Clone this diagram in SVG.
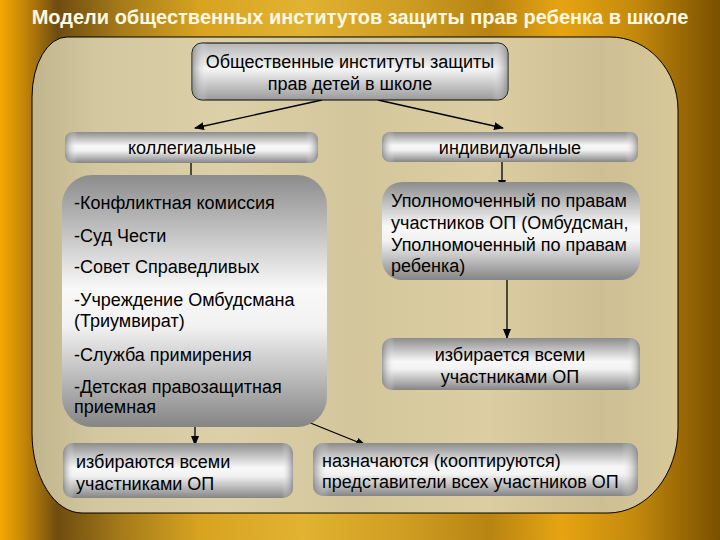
<svg xmlns="http://www.w3.org/2000/svg" width="720" height="540" viewBox="0 0 720 540">
<defs>
<linearGradient id="bg" x1="0" y1="0" x2="1" y2="0">
<stop offset="0" stop-color="#f5a800"/>
<stop offset="0.03" stop-color="#c98a08"/>
<stop offset="0.08" stop-color="#6e4c10"/>
<stop offset="0.17" stop-color="#a67c1a"/>
<stop offset="0.28" stop-color="#d8a420"/>
<stop offset="0.42" stop-color="#e2b232"/>
<stop offset="0.56" stop-color="#cf9e22"/>
<stop offset="0.68" stop-color="#b88412"/>
<stop offset="0.78" stop-color="#e6a412"/>
<stop offset="0.88" stop-color="#c48a0c"/>
<stop offset="1" stop-color="#7a5000"/>
</linearGradient>
<linearGradient id="panel" x1="0" y1="0" x2="1" y2="0">
<stop offset="0" stop-color="#c0b58c"/>
<stop offset="0.1" stop-color="#d2c79f"/>
<stop offset="0.3" stop-color="#dcd0a8"/>
<stop offset="0.5" stop-color="#d3c69c"/>
<stop offset="0.7" stop-color="#dccea2"/>
<stop offset="0.88" stop-color="#cdbf94"/>
<stop offset="1" stop-color="#d8c899"/>
</linearGradient>
<linearGradient id="metal" x1="0" y1="0" x2="0" y2="1">
<stop offset="0" stop-color="#8c8c8c"/>
<stop offset="0.45" stop-color="#f8f8f8"/>
<stop offset="0.6" stop-color="#f2f2f2"/>
<stop offset="1" stop-color="#858585"/>
</linearGradient>
<linearGradient id="metalLight" x1="0" y1="0" x2="0" y2="1">
<stop offset="0" stop-color="#b4b4b4"/>
<stop offset="0.45" stop-color="#f6f6f6"/>
<stop offset="1" stop-color="#9a9a9a"/>
</linearGradient>
<linearGradient id="edges" x1="0" y1="0" x2="1" y2="0">
<stop offset="0" stop-color="#7a7a7a" stop-opacity="0.7"/>
<stop offset="0.05" stop-color="#ffffff" stop-opacity="0"/>
<stop offset="0.95" stop-color="#ffffff" stop-opacity="0"/>
<stop offset="1" stop-color="#7a7a7a" stop-opacity="0.7"/>
</linearGradient>
<marker id="arr" markerUnits="userSpaceOnUse" markerWidth="10" markerHeight="8" refX="9" refY="4" orient="auto">
<path d="M0,0 L10,4 L0,8 Z" fill="#000"/>
</marker>
<style>
.t{font-family:"Liberation Sans",Arial,sans-serif;font-size:18px;fill:#000}
.c{text-anchor:middle}
.title{font-family:"Liberation Sans",Arial,sans-serif;font-size:20px;font-weight:bold;fill:#fff8e2;text-anchor:middle}
.ln{stroke:#000;stroke-width:1.3;fill:none;marker-end:url(#arr)}
.box{fill:url(#metal)}
</style>
</defs>
<rect width="720" height="540" fill="url(#bg)"/>
<text class="title" x="360" y="24">Модели общественных институтов защиты прав ребенка в школе</text>
<path d="M67,37 H610 A68 73 0 0 1 678,110 V428 A70 85 0 0 1 608,513 H82 A50 80 0 0 1 32,433 V97 A35 60 0 0 1 67,37 Z" fill="url(#panel)" stroke="#000" stroke-width="1"/>

<g id="connectors">
<line class="ln" x1="322" y1="100" x2="195" y2="128"/>
<line class="ln" x1="378" y1="100" x2="503" y2="128"/>
<line class="ln" x1="191" y1="163" x2="191" y2="191"/>
<line class="ln" x1="502" y1="162" x2="502" y2="189"/>
<line class="ln" x1="507" y1="280" x2="507" y2="338"/>
<line class="ln" x1="195" y1="427" x2="195" y2="445"/>
<line class="ln" x1="308" y1="422" x2="365" y2="445"/>
</g>

<g id="root">
<rect x="192" y="43" width="316" height="57" rx="10" fill="url(#metalLight)" stroke="#000" stroke-width="1"/>
<rect x="192" y="43" width="316" height="57" rx="10" fill="url(#edges)"/>
<text class="t c" x="350" y="68">Общественные институты защиты</text>
<text class="t c" x="350" y="90">прав детей в школе</text>
</g>

<g id="collegial">
<rect class="box" x="65" y="132" width="253" height="31" rx="8"/>
<rect x="65" y="132" width="253" height="31" rx="8" fill="url(#edges)"/>
<text class="t c" x="192" y="154">коллегиальные</text>
</g>

<g id="individual">
<rect class="box" x="382" y="132" width="256" height="30" rx="8"/>
<rect x="382" y="132" width="256" height="30" rx="8" fill="url(#edges)"/>
<text class="t c" x="510" y="154">индивидуальные</text>
</g>

<g id="collegial-list">
<rect class="box" x="62" y="175" width="265" height="252" rx="30"/>
<text class="t" x="74" y="209">-Конфликтная комиссия</text>
<text class="t" x="74" y="242">-Суд Чести</text>
<text class="t" x="74" y="273">-Совет Справедливых</text>
<text class="t" x="74" y="306">-Учреждение Омбудсмана</text>
<text class="t" x="74" y="327">(Триумвират)</text>
<text class="t" x="74" y="361">-Служба примирения</text>
<text class="t" x="74" y="393">-Детская правозащитная</text>
<text class="t" x="74" y="413">приемная</text>
</g>

<g id="ombudsman">
<rect class="box" x="382" y="182" width="258" height="98" rx="20"/>
<text class="t" x="391" y="207">Уполномоченный по правам</text>
<text class="t" x="391" y="229">участников ОП (Омбудсман,</text>
<text class="t" x="391" y="251">Уполномоченный по правам</text>
<text class="t" x="391" y="272">ребенка)</text>
</g>

<g id="elected-individual">
<rect class="box" x="382" y="338" width="258" height="52" rx="10"/>
<rect x="382" y="338" width="258" height="52" rx="10" fill="url(#edges)"/>
<text class="t c" x="510" y="361">избирается всеми</text>
<text class="t c" x="510" y="383">участниками ОП</text>
</g>

<g id="elected-collegial">
<rect class="box" x="63" y="443" width="230" height="55" rx="10"/>
<rect x="63" y="443" width="230" height="55" rx="10" fill="url(#edges)"/>
<text class="t" x="76" y="468">избираются всеми</text>
<text class="t" x="76" y="490">участниками ОП</text>
</g>

<g id="appointed">
<rect class="box" x="313" y="443" width="325" height="53" rx="10"/>
<rect x="313" y="443" width="325" height="53" rx="10" fill="url(#edges)"/>
<text class="t" x="322" y="467">назначаются (кооптируются)</text>
<text class="t" x="322" y="488">представители всех участников ОП</text>
</g>
</svg>
